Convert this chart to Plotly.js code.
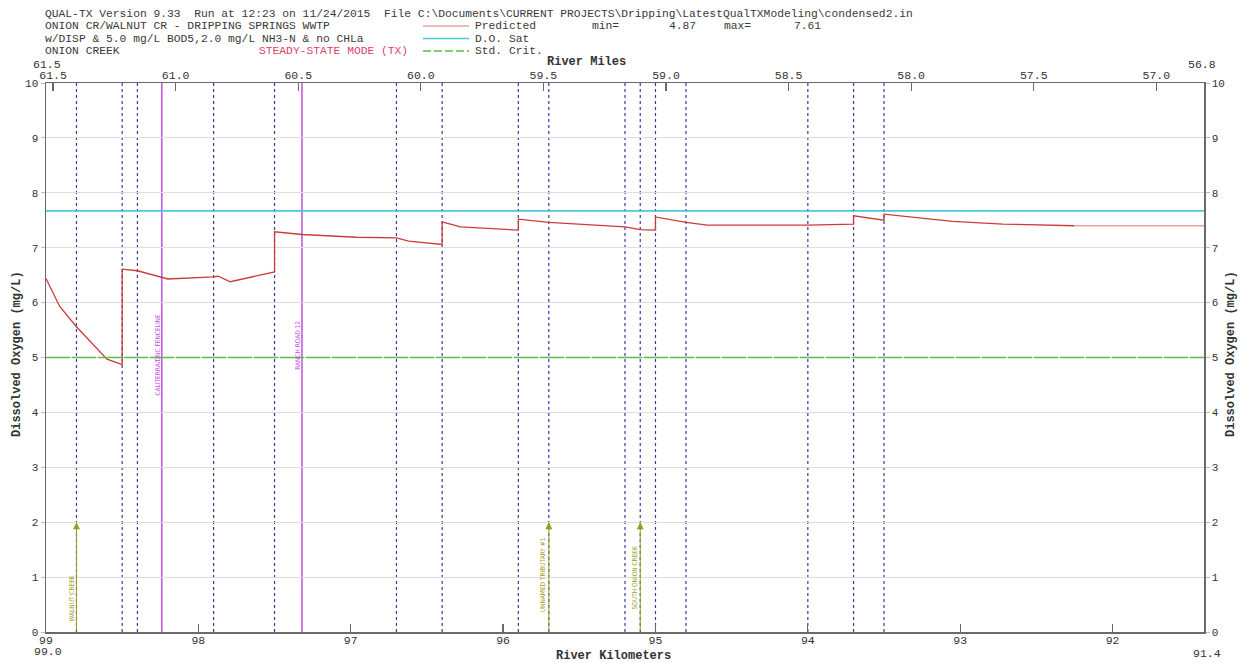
<!DOCTYPE html>
<html>
<head>
<meta charset="utf-8">
<script src="https://cdn.plot.ly/plotly-3.0.1.min.js"></script>
<style>html,body{margin:0;padding:0;background:#fff;}#chart{width:1246px;height:663px;}</style>
</head>
<body>
<div id="chart"></div>
<script>
// ---------- data ----------
const KM_PER_MI = 1.609;
const kmRange = [99.0, 91.4];
const kmTicks = [99, 98, 97, 96, 95, 94, 93, 92];

// Predicted dissolved oxygen (mg/L) vs river kilometre
const predKm = [99.00, 98.91, 98.80, 98.60, 98.50, 98.50, 98.40, 98.25, 98.20, 97.90, 97.87, 97.79, 97.50, 97.50, 97.32, 96.96, 96.70, 96.62, 96.40, 96.40, 96.28, 95.90, 95.90, 95.70, 95.20, 95.10, 95.00, 95.00, 94.80, 94.66, 94.00, 93.70, 93.70, 93.50, 93.50, 93.05, 92.72, 92.25, 91.40];
const predDO = [6.44, 5.93, 5.56, 4.97, 4.87, 6.61, 6.58, 6.46, 6.43, 6.47, 6.48, 6.38, 6.56, 7.29, 7.24, 7.19, 7.18, 7.12, 7.06, 7.47, 7.38, 7.32, 7.52, 7.46, 7.38, 7.33, 7.32, 7.56, 7.46, 7.41, 7.41, 7.43, 7.58, 7.50, 7.61, 7.48, 7.43, 7.40, 7.40];

const doSat = 7.67;
const stdCrit = 5.0;

// reach boundaries (dotted) and landmarks
const dottedKm = [98.80, 98.50, 98.40, 97.90, 97.50, 96.70, 96.40, 95.90, 95.70, 95.20, 95.10, 95.00, 94.80, 94.00, 93.70, 93.50];
const landmarkKm = [98.24, 97.32];
const landmarkNames = ["CALITERRA/DNC FENCELINE", "RANCH ROAD 12"];
const landmarkLabelY = [5.05, 5.23];

const tribKm = [98.80, 95.70, 95.10];
const tribNames = ["WALNUT CREEK", "UNNAMED TRIBUTARY #1", "SOUTH ONION CREEK"];
const tribLabelY = [0.62, 1.05, 0.98];
const tribArrowTop = 2.0;

const minDO = 4.87, maxDO = 7.61;

const headerLines = [
  "QUAL-TX Version 9.33  Run at 12:23 on 11/24/2015  File C:\\Documents\\CURRENT PROJECTS\\Dripping\\LatestQualTXModeling\\condensed2.in",
  "ONION CR/WALNUT CR - DRIPPING SPRINGS WWTP",
  "w/DISP & 5.0 mg/L BOD5,2.0 mg/L NH3-N & no CHLa",
  "ONION CREEK"
];
const legendNames = ["Predicted", "D.O. Sat", "Std. Crit."];

// ---------- layout helpers ----------
const L = 46, R = 1204, T = 83, B = 632;
const px = v => (v - L) / (R - L);
const py = v => (B - v) / (B - T);
const mono = "Liberation Mono, Courier New, monospace";

const cPred = "#cc3b3b", cPredTail = "#e8a4a4", cSat = "#48c8d8", cCrit = "#55c044";
const cDot = "#3a3a9c", cMag = "#c24ee0", cOlive = "#9c9c1c";

const nTail = 2;
const traces = [
  {x: predKm.slice(0, predKm.length - nTail + 1), y: predDO.slice(0, predDO.length - nTail + 1), mode: "lines", line: {color: cPred, width: 1.3}, hoverinfo: "x+y"},
  {x: predKm.slice(predKm.length - nTail), y: predDO.slice(predDO.length - nTail), mode: "lines", line: {color: cPredTail, width: 1.3}, hoverinfo: "x+y"},
  {x: kmRange, y: [doSat, doSat], mode: "lines", line: {color: cSat, width: 1.6}, hoverinfo: "y"},
  {x: kmRange, y: [stdCrit, stdCrit], mode: "lines", line: {color: cCrit, width: 1.4, dash: "24px,2px"}, hoverinfo: "y"},
  {x: kmRange.map(k => k / KM_PER_MI), y: [0, 0], xaxis: "x2", mode: "markers", marker: {opacity: 0}, hoverinfo: "skip"},
  {x: kmRange, y: [0, 0], yaxis: "y2", mode: "markers", marker: {opacity: 0}, hoverinfo: "skip"}
];

const shapes = [];
dottedKm.forEach(k => shapes.push({type: "line", xref: "x", yref: "paper", x0: k, x1: k, y0: 0, y1: 1, layer: "between", line: {color: cDot, width: 1.2, dash: "3px,3px"}}));
landmarkKm.forEach(k => shapes.push({type: "line", xref: "x", yref: "paper", x0: k, x1: k, y0: 0, y1: 1, layer: "between", line: {color: cMag, width: 1.5}}));

// legend sample lines in header
const legColors = [cPredTail, cSat, cCrit];
const legDash = ["solid", "solid", "8px,3px"];
const legRowY = [26, 38.5, 51];
legendNames.forEach((n, i) => shapes.push({type: "line", xref: "paper", yref: "paper", x0: px(423), x1: px(469), y0: py(legRowY[i]), y1: py(legRowY[i]), line: {color: legColors[i], width: 1.3, dash: legDash[i]}}));

const ann = [];
function txt(x, y, t, font, extra) {
  ann.push(Object.assign({xref: "paper", yref: "paper", x: px(x), y: py(y), xanchor: "center", yanchor: "middle", text: t, showarrow: false, font: font}, extra || {}));
}
const hf = {family: mono, size: 11.3, color: "#3a3a3a"};
const hdrY = [14, 26, 38.5, 51];
headerLines.forEach((t, i) => txt(43, hdrY[i], t, hf, {xanchor: "left"}));
txt(257, 51, "STEADY-STATE MODE (TX)", {family: mono, size: 11.3, color: "#e0406a"}, {xanchor: "left"});
legendNames.forEach((n, i) => txt(473, legRowY[i], n, hf, {xanchor: "left"}));
[["min=", 590], [minDO.toFixed(2), 667], ["max=", 722], [maxDO.toFixed(2), 792]].forEach(p => txt(p[1], 26, p[0], hf, {xanchor: "left"}));

// axis titles and corner labels
const tf = {family: mono, size: 12, color: "#333", weight: "bold"};
txt(586, 62, "River Miles", tf);
txt(613, 656, "River Kilometers", tf);
txt(17, 354, "Dissolved Oxygen (mg/L)", tf, {textangle: -90});
txt(1231, 354, "Dissolved Oxygen (mg/L)", tf, {textangle: -90});
const cf = {family: mono, size: 11.5, color: "#333"};
txt(47, 65, (kmRange[0] / KM_PER_MI).toFixed(1), cf);
txt(1202, 64, (kmRange[1] / KM_PER_MI).toFixed(1), cf);
txt(48, 652, kmRange[0].toFixed(1), cf);
txt(1207, 653, kmRange[1].toFixed(1), cf);

// landmark labels
const smallFont = c => ({family: "DejaVu Sans Condensed, Arial, sans-serif", size: 6.5, color: c});
landmarkKm.forEach((k, i) => ann.push({xref: "x", yref: "y", x: k, y: landmarkLabelY[i], xanchor: "center", yanchor: "middle", xshift: -4, text: landmarkNames[i], textangle: -90, showarrow: false, font: smallFont(cMag)}));
// tributary arrows and labels
tribKm.forEach((k, i) => {
  ann.push({xref: "x", yref: "y", axref: "x", ayref: "y", x: k, y: tribArrowTop, ax: k, ay: 0, text: "", showarrow: true, arrowhead: 2, arrowsize: 1.4, arrowwidth: 1, arrowcolor: cOlive});
  ann.push({xref: "x", yref: "y", x: k, y: tribLabelY[i], xanchor: "center", yanchor: "middle", xshift: -5, text: tribNames[i], textangle: -90, showarrow: false, font: smallFont(cOlive)});
});

const axisLine = "#6a6a6a";
const tickFont = {family: mono, size: 11.5, color: "#333"};
const layout = {
  width: 1246, height: 663,
  margin: {l: L, r: 1246 - R, t: T, b: 663 - B, pad: 0},
  paper_bgcolor: "#fff", plot_bgcolor: "#fff",
  showlegend: false,
  xaxis: {range: kmRange, tickvals: kmTicks, ticktext: kmTicks.map(String), ticks: "inside", ticklen: 8, tickcolor: axisLine, tickwidth: 1.3,
          ticklabelstandoff: -3,
          showline: true, linecolor: axisLine, linewidth: 1.5, showgrid: false, zeroline: false, tickfont: tickFont},
  xaxis2: {overlaying: "x", side: "top", anchor: "y", range: kmRange.map(k => k / KM_PER_MI), tick0: 57, dtick: 0.5, tickformat: ".1f",
           ticks: "inside", ticklen: 8, tickcolor: axisLine, tickwidth: 1.3, showline: true, linecolor: axisLine, linewidth: 1.5,
           ticklabelstandoff: -2,
           showgrid: false, zeroline: false, tickfont: tickFont},
  yaxis: {range: [0, 10], dtick: 1, tick0: 0, ticks: "outside", ticklen: 4, tickcolor: "#bbb", showline: true, linecolor: axisLine, linewidth: 1.5,
          showgrid: true, gridcolor: "#dedede", gridwidth: 1, zeroline: false, tickfont: {family: mono, size: 11, color: "#333"}},
  yaxis2: {overlaying: "y", side: "right", anchor: "x", range: [0, 10], dtick: 1, tick0: 0, ticks: "outside", ticklen: 4, tickcolor: "#bbb",
           showline: true, linecolor: axisLine, linewidth: 1.5, showgrid: false, zeroline: false, tickfont: {family: mono, size: 11, color: "#333"}},
  shapes: shapes,
  annotations: ann
};

Plotly.newPlot("chart", traces, layout, {displayModeBar: false, staticPlot: true});
</script>
</body>
</html>
